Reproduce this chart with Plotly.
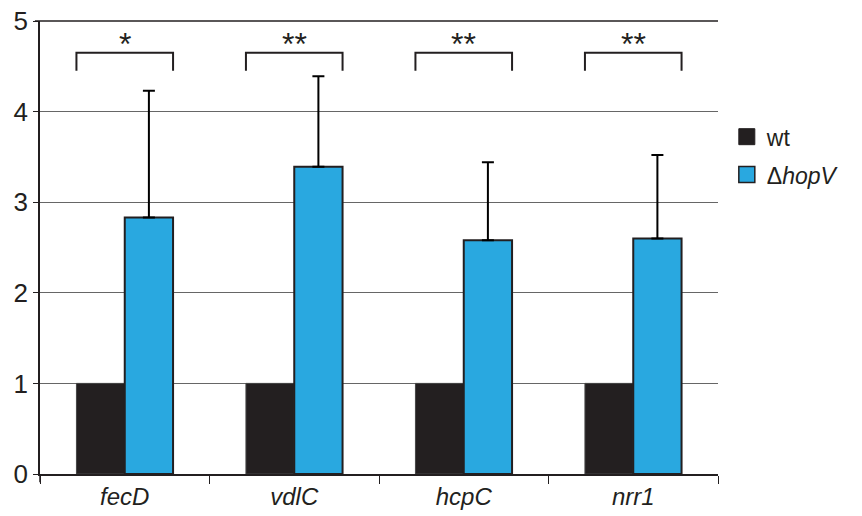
import plotly.graph_objects as go

categories = ["fecD", "vdlC", "hcpC", "nrr1"]
wt_values = [1.0, 1.0, 1.0, 1.0]
hopv_values = [2.83, 3.39, 2.58, 2.60]
hopv_err = [1.40, 1.00, 0.86, 0.92]
significance = ["*", "**", "**", "**"]

cat_labels = [f"<i>{c}</i>" for c in categories]
wt_color = "#231f20"
hopv_color = "#29a8e0"

fig = go.Figure()
fig.add_trace(go.Bar(
    x=cat_labels, y=wt_values, name="wt", showlegend=False,
    marker=dict(color=wt_color, line=dict(color="#444444", width=1)),
))
fig.add_trace(go.Bar(
    x=cat_labels, y=hopv_values, name="Δ<i>hopV</i>", showlegend=False,
    marker=dict(color=hopv_color, line=dict(color="#231f20", width=2)),
    error_y=dict(type="data", array=hopv_err, arrayminus=[0]*len(hopv_err),
                 symmetric=False, color="#000000", thickness=2, width=6),
))
# legend entries
fig.add_trace(go.Scatter(x=[None], y=[None], mode="markers", name="wt", legendgroup="a",
                         marker=dict(symbol="square", size=16, color=wt_color,
                                     line=dict(color=wt_color, width=1))))
fig.add_trace(go.Scatter(x=[None], y=[None], mode="markers", name="Δ<i>hopV</i>", legendgroup="b",
                         marker=dict(symbol="square", size=16, color=hopv_color,
                                     line=dict(color="#231f20", width=1.5))))

shapes = []
annotations = []
half = 0.285
for i, s in enumerate(significance):
    shapes.append(dict(type="path", xref="x", yref="y",
                       path=f"M {i-half},4.45 L {i-half},4.65 L {i+half},4.65 L {i+half},4.45",
                       line=dict(color="#231f20", width=2)))
    annotations.append(dict(x=i, y=4.52, xref="x", yref="y", text=s,
                            showarrow=False, yanchor="bottom",
                            font=dict(size=32, color="#231f20")))
# left axis extension below zero
shapes.append(dict(type="line", xref="paper", yref="paper", x0=0, x1=0, y0=0, y1=-0.018,
                   line=dict(color="#231f20", width=1.5)))
# top frame line (gridline at the top of the range)
shapes.append(dict(type="line", xref="paper", yref="paper", x0=-0.0075, x1=1, y0=1, y1=1,
                   line=dict(color="#231f20", width=1.5)))

fig.update_layout(
    width=862, height=516,
    margin=dict(l=32, r=152, t=13, b=50),
    paper_bgcolor="white", plot_bgcolor="white",
    barmode="group", bargap=0.43, bargroupgap=0,
    font=dict(family="Liberation Sans, Arial, sans-serif", color="#231f20"),
    legend=dict(x=1.013, y=0.792, xanchor="left", yanchor="top",
                font=dict(size=23, color="#231f20"), tracegroupgap=5,
                traceorder="grouped", itemsizing="trace", itemwidth=30),
    shapes=shapes, annotations=annotations,
    showlegend=True,
)
fig.update_xaxes(showline=True, linecolor="#231f20", linewidth=1.5, automargin=False,
                 ticks="outside", tickson="boundaries", ticklen=8, tickcolor="#231f20",
                 tickfont=dict(size=24, color="#231f20"), showgrid=False)
fig.update_yaxes(range=[0, 5], tickvals=[0, 1, 2, 3, 4, 5], showgrid=True,
                 gridcolor="#666666", gridwidth=1, ticklabeloverflow="allow",
                 showline=True, linecolor="#231f20", linewidth=1.5, automargin=False,
                 ticks="outside", ticklen=5, tickcolor="#231f20",
                 tickfont=dict(size=26, color="#231f20"), zeroline=False)

fig.write_html("out.html")
